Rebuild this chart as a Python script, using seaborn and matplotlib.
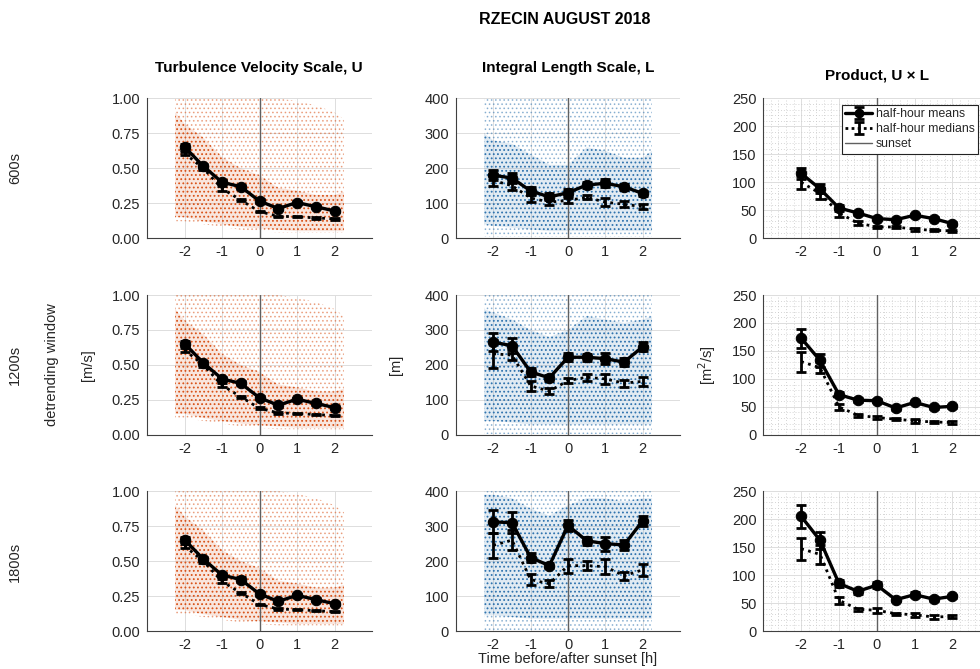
import matplotlib
matplotlib.use("Agg")
import matplotlib.pyplot as plt
import seaborn as sns
from matplotlib.colors import to_rgba
from matplotlib.lines import Line2D
from matplotlib.ticker import AutoMinorLocator, FormatStrFormatter, MultipleLocator

# ---------------- data ----------------
hours = [-2.0, -1.5, -1.0, -0.5, 0.0, 0.5, 1.0, 1.5, 2.0]

# Turbulence velocity scale U [m/s] (same for every detrending window)
U_mean = [0.653, 0.515, 0.400, 0.368, 0.265, 0.212, 0.255, 0.225, 0.195]
U_mean_err = [0.020, 0.015, 0.015, 0.015, 0.012, 0.010, 0.012, 0.010, 0.010]
U_median = [0.607, 0.500, 0.355, 0.272, 0.190, 0.157, 0.153, 0.145, 0.138]
U_median_err = [0.012, 0.012, 0.015, 0.007, 0.006, 0.005, 0.005, 0.005, 0.005]

# Integral length scale L [m]
L600_mean = [180, 172, 135, 118, 130, 152, 157, 147, 128]
L600_mean_err = [15, 15, 12, 10, 10, 8, 12, 8, 8]
L600_median = [165, 150, 115, 103, 108, 117, 103, 97, 90]
L600_median_err = [15, 12, 12, 8, 8, 6, 12, 8, 7]

L1200_mean = [265, 255, 180, 163, 222, 222, 218, 208, 252]
L1200_mean_err = [25, 22, 12, 8, 12, 10, 15, 12, 13]
L1200_median = [232, 228, 140, 125, 155, 165, 160, 148, 153]
L1200_median_err = [40, 15, 15, 8, 8, 10, 15, 10, 12]

L1800_mean = [312, 310, 210, 187, 302, 258, 250, 246, 315]
L1800_mean_err = [33, 30, 12, 8, 15, 12, 20, 13, 15]
L1800_median = [245, 260, 147, 135, 187, 187, 184, 158, 175]
L1800_median_err = [35, 28, 15, 10, 20, 12, 22, 12, 18]

# Product U x L [m^2/s]
UL600_mean = [116, 88, 54, 45, 35, 33, 41, 35, 26]
UL600_mean_err = [10, 8, 5, 3, 3, 2, 3, 2, 3]
UL600_median = [100, 80, 45, 27, 20, 20, 16, 14, 13]
UL600_median_err = [12, 10, 8, 3, 2, 2, 3, 2, 2]

UL1200_mean = [173, 133, 72, 62, 61, 48, 58, 49, 51]
UL1200_mean_err = [17, 12, 5, 3, 3, 3, 3, 3, 3]
UL1200_median = [131, 120, 50, 35, 31, 28, 25, 23, 22]
UL1200_median_err = [18, 10, 5, 3, 3, 2, 4, 2, 2]

UL1800_mean = [205, 162, 85, 71, 82, 56, 65, 57, 62]
UL1800_mean_err = [20, 15, 7, 4, 5, 3, 5, 3, 3]
UL1800_median = [147, 137, 55, 39, 37, 31, 29, 25, 26]
UL1800_median_err = [20, 17, 6, 3, 4, 2, 4, 3, 3]

# Extent of the individual-sample clouds (outer = sparse, core = dense)
cloud_x = [-2.25, -2.0, -1.5, -1.0, -0.5, 0.0, 0.5, 1.0, 1.5, 2.0, 2.25]
U_outer_lo = [0.12, 0.12, 0.10, 0.08, 0.06, 0.05, 0.04, 0.04, 0.04, 0.04, 0.04]
U_outer_hi = [1.00, 1.00, 1.00, 1.00, 1.00, 1.00, 1.00, 0.98, 0.95, 0.90, 0.85]
U_core_lo = [0.15, 0.15, 0.12, 0.10, 0.08, 0.07, 0.06, 0.05, 0.05, 0.05, 0.05]
U_core_hi = [0.90, 0.82, 0.72, 0.58, 0.50, 0.45, 0.36, 0.34, 0.31, 0.31, 0.33]

L_outer_lo = [2, 2, 2, 2, 2, 2, 2, 2, 2, 2, 2]
L_outer_hi = [400, 400, 400, 400, 400, 400, 400, 400, 400, 400, 400]
L600_core_lo = [40, 35, 30, 25, 20, 20, 20, 20, 20, 20, 20]
L600_core_hi = [300, 280, 270, 240, 210, 210, 260, 250, 230, 230, 250]
L1200_core_lo = [40, 40, 35, 30, 30, 30, 30, 30, 30, 30, 30]
L1200_core_hi = [360, 350, 330, 300, 280, 300, 340, 330, 320, 330, 340]
L1800_core_lo = [45, 45, 40, 35, 35, 35, 35, 35, 35, 35, 35]
L1800_core_hi = [390, 390, 380, 350, 330, 360, 380, 380, 370, 380, 380]

row_names = ["600s", "1200s", "1800s"]
col_titles = ["Turbulence Velocity Scale, U", "Integral Length Scale, L", "Product, U \u00d7 L"]

# ---------------- style ----------------
sns.set_theme(style="white")
plt.rcParams["font.family"] = ["Liberation Sans", "DejaVu Sans"]
plt.rcParams["hatch.linewidth"] = 0.7
plt.rcParams["axes.unicode_minus"] = False

ORANGE = "#D95319"
BLUE = "#2F73AE"
AXC = "#404040"
TXT = "#262626"

fig = plt.figure(figsize=(9.8, 6.69), dpi=100)

col_left = [0.150, 0.4653, 0.7789]
col_w = [0.2296, 0.2286, 0.2316]
row_bottom = [0.644, 0.350, 0.0568]
row_h = 0.209


def style_axes(ax, ylim, ystep, yfmt, minor):
    ax.set_xlim(-3, 3)
    ax.set_ylim(*ylim)
    ax.set_xticks([-2, -1, 0, 1, 2])
    ax.yaxis.set_major_locator(MultipleLocator(ystep))
    if yfmt:
        ax.yaxis.set_major_formatter(FormatStrFormatter(yfmt))
    ax.grid(True, which="major", color="#dddddd", lw=0.7)
    if minor:
        ax.xaxis.set_minor_locator(AutoMinorLocator(5))
        ax.yaxis.set_minor_locator(AutoMinorLocator(5))
        ax.grid(True, which="minor", color="#c8c8c8", lw=0.6, ls=(0, (1, 2.5)))
    ax.set_axisbelow(True)
    for s in ["top", "right"]:
        ax.spines[s].set_visible(False)
    for s in ["left", "bottom"]:
        ax.spines[s].set_color(AXC)
        ax.spines[s].set_linewidth(0.8)
    ax.tick_params(axis="both", which="both", direction="in", length=0,
                   labelsize=10.5, colors=TXT, pad=5)
    ax.tick_params(axis="both", which="major", length=3, color=AXC)


def draw_cloud(ax, color, lo_o, hi_o, lo_c, hi_c):
    # sparse outer cloud: faint fine dots
    ax.fill_between(cloud_x, lo_o, hi_o, facecolor="none",
                    edgecolor=to_rgba(color, 0.45), hatch="....", linewidth=0,
                    zorder=1)
    # dense core: light wash plus strong fine dots
    ax.fill_between(cloud_x, lo_c, hi_c, facecolor=to_rgba(color, 0.14),
                    edgecolor=to_rgba(color, 0.95), hatch="....", linewidth=0,
                    zorder=1)


def draw_stats(ax, mean, mean_err, med, med_err):
    ax.axvline(0, color="#606060", lw=1.0, zorder=2)
    sns.lineplot(x=hours, y=med, ax=ax, color="black", lw=2.0,
                 linestyle=(0, (1, 1.6)), zorder=3)
    med_bars = ax.errorbar(hours, med, yerr=med_err, fmt="none", ecolor="black",
                           elinewidth=2.0, capsize=3.5, capthick=2.0, zorder=3)
    sns.lineplot(x=hours, y=mean, ax=ax, color="black", lw=2.4, marker="o",
                 markersize=7.5, markeredgecolor="black", markerfacecolor="black",
                 zorder=4)
    mean_bars = ax.errorbar(hours, mean, yerr=mean_err, fmt="none", ecolor="black",
                            elinewidth=2.0, capsize=3.5, capthick=2.0, zorder=4)
    return mean_bars, med_bars


U_rows = [(U_mean, U_mean_err, U_median, U_median_err)] * 3
L_rows = [
    (L600_mean, L600_mean_err, L600_median, L600_median_err, L600_core_lo, L600_core_hi),
    (L1200_mean, L1200_mean_err, L1200_median, L1200_median_err, L1200_core_lo, L1200_core_hi),
    (L1800_mean, L1800_mean_err, L1800_median, L1800_median_err, L1800_core_lo, L1800_core_hi),
]
UL_rows = [
    (UL600_mean, UL600_mean_err, UL600_median, UL600_median_err),
    (UL1200_mean, UL1200_mean_err, UL1200_median, UL1200_median_err),
    (UL1800_mean, UL1800_mean_err, UL1800_median, UL1800_median_err),
]

for r in range(3):
    # U column
    ax = fig.add_axes([col_left[0], row_bottom[r], col_w[0], row_h])
    draw_cloud(ax, ORANGE, U_outer_lo, U_outer_hi, U_core_lo, U_core_hi)
    draw_stats(ax, *U_rows[r])
    style_axes(ax, (0, 1), 0.25, "%.2f", False)

    # L column
    ax = fig.add_axes([col_left[1], row_bottom[r], col_w[1], row_h])
    m, me, md, mde, clo, chi = L_rows[r]
    draw_cloud(ax, BLUE, L_outer_lo, L_outer_hi, clo, chi)
    draw_stats(ax, m, me, md, mde)
    style_axes(ax, (0, 400), 100, None, False)

    # U x L column
    ax = fig.add_axes([col_left[2], row_bottom[r], col_w[2], row_h])
    mb, mdb = draw_stats(ax, *UL_rows[r])
    style_axes(ax, (0, 250), 50, None, True)
    if r == 0:
        mean_key = Line2D([], [], color="black", lw=2.4, marker="o", markersize=6)
        med_key = Line2D([], [], color="black", lw=2.0, linestyle=(0, (1, 1.2)))
        sun_key = Line2D([], [], color="#606060", lw=1.0)
        leg = ax.legend([(mean_key, mb), (med_key, mdb), sun_key],
                        ["half-hour means", "half-hour medians", "sunset"],
                        loc="upper left", bbox_to_anchor=(0.345, 0.955),
                        fontsize=8.8, frameon=True, fancybox=False,
                        edgecolor="#222222", framealpha=1, handlelength=2.2,
                        borderpad=0.3, labelspacing=0.25, handletextpad=0.3,
                        borderaxespad=0)
        leg.get_frame().set_linewidth(0.8)

# ---------------- labels ----------------
fig.text(565 / 980, 1 - 20 / 669, "RZECIN AUGUST 2018", ha="center", va="center",
         fontsize=11.5, fontweight="bold", color="black")
fig.text(259 / 980, 1 - 68 / 669, col_titles[0], ha="center", va="center",
         fontsize=11, fontweight="bold", color="black")
fig.text(568 / 980, 1 - 68 / 669, col_titles[1], ha="center", va="center",
         fontsize=11, fontweight="bold", color="black")
fig.text(877 / 980, 1 - 75 / 669, col_titles[2], ha="center", va="center",
         fontsize=11, fontweight="bold", color="black")

for name, py in zip(row_names, [168, 365, 562]):
    fig.text(15 / 980, 1 - py / 669, name, rotation=90, ha="center", va="center",
             fontsize=10.5, color=TXT)
fig.text(52 / 980, 1 - 365 / 669, "detrending window", rotation=90, ha="center",
         va="center", fontsize=10.5, color=TXT)
fig.text(88 / 980, 1 - 365 / 669, "[m/s]", rotation=90, ha="center", va="center",
         fontsize=10.5, color=TXT)
fig.text(396 / 980, 1 - 365 / 669, "[m]", rotation=90, ha="center", va="center",
         fontsize=10.5, color=TXT)
fig.text(707 / 980, 1 - 365 / 669, "[m$^2$/s]", rotation=90, ha="center",
         va="center", fontsize=10.5, color=TXT)
fig.text(568 / 980, 1 - 659 / 669, "Time before/after sunset [h]", ha="center",
         va="center", fontsize=10.5, color=TXT)

fig.savefig("out.png", dpi=100, facecolor="white")
